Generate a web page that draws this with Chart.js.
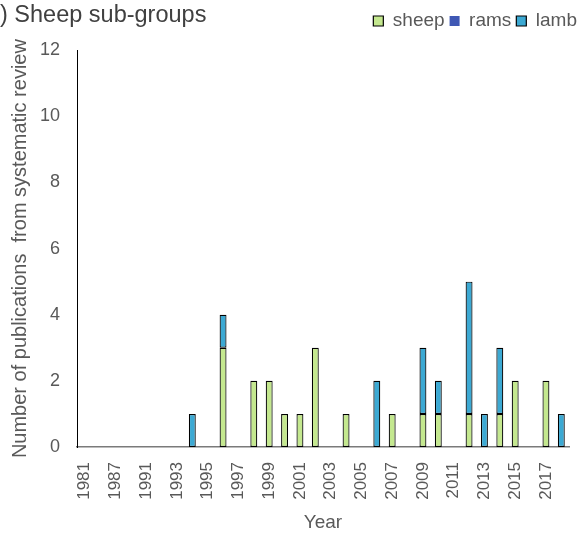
<!DOCTYPE html>
<html>
<head>
<meta charset="utf-8">
<script src="https://cdn.jsdelivr.net/npm/chart.js@4"></script>
<style>
    html, body { margin: 0; padding: 0; background: #fff; overflow: hidden; }
    #wrap { width: 582px; height: 534px; position: relative; }
</style>
</head>
<body>
<div id="wrap"><canvas id="sheepChart" width="582" height="534"></canvas></div>
<script>
const years = ['1981', '1985', '1987', '1989', '1991', '1992', '1993', '1994', '1995', '1996',
    '1997', '1998', '1999', '2000', '2001', '2002', '2003', '2004', '2005', '2006',
    '2007', '2008', '2009', '2010', '2011', '2012', '2013', '2014', '2015', '2016',
    '2017', '2018'];
const sheepCounts = [0, 0, 0, 0, 0, 0, 0, 0, 0, 3,
    0, 2, 2, 1, 1, 3, 0, 1, 0, 0,
    1, 0, 1, 1, 0, 1, 0, 1, 2, 0,
    2, 0];
const ramsCounts = [0, 0, 0, 0, 0, 0, 0, 0, 0, 0,
    0, 0, 0, 0, 0, 0, 0, 0, 0, 0,
    0, 0, 0, 0, 0, 0, 0, 0, 0, 0,
    0, 0];
const lambCounts = [0, 0, 0, 0, 0, 0, 0, 1, 0, 1,
    0, 0, 0, 0, 0, 0, 0, 0, 0, 2,
    0, 0, 2, 1, 0, 4, 1, 2, 0, 0,
    0, 1];

const fontFamily = "'Liberation Sans', Arial, sans-serif";
const textGrey = '#595959';

// panel heading, partly cut off at the left like the original figure
const headingPlugin = {
    id: 'heading',
    afterDraw(chart) {
        let ctx = chart.ctx;
        ctx.save();
        ctx.font = '23.5px ' + fontFamily;
        ctx.fillStyle = '#404040';
        ctx.textAlign = 'left';
        ctx.textBaseline = 'middle';
        ctx.fillText(') Sheep sub-groups', 0, 16);
        ctx.restore();
    }
};

let ctx = document.getElementById('sheepChart').getContext('2d');
let chart = new Chart(ctx, {
    type: 'bar',
    data: {
        labels: years,
        datasets: [
            {
                label: 'sheep',
                data: sheepCounts,
                backgroundColor: '#C4E88F',
                borderColor: '#000000',
                borderWidth: 1.2,
                borderSkipped: false
            },
            {
                label: 'rams',
                data: ramsCounts,
                backgroundColor: '#3F58B4',
                borderColor: '#3F58B4',
                borderWidth: 0,
                borderSkipped: false
            },
            {
                label: 'lamb',
                data: lambCounts,
                backgroundColor: '#3CA9D3',
                borderColor: '#000000',
                borderWidth: 1.2,
                borderSkipped: false
            }
        ]
    },
    options: {
        responsive: false,
        animation: false,
        barPercentage: 0.45,
        categoryPercentage: 1,
        layout: { padding: { top: 6.5 } },
        plugins: {
            legend: {
                position: 'top',
                align: 'end',
                labels: {
                    boxWidth: 10,
                    boxHeight: 10,
                    padding: 5,
                    color: textGrey,
                    font: { family: fontFamily, size: 19 }
                }
            },
            // empty spacer between the legend row and the plot
            subtitle: {
                display: true,
                text: '',
                weight: 500,
                font: { size: 1 },
                padding: { top: 8.5, bottom: 0 }
            },
            tooltip: { enabled: false }
        },
        scales: {
            x: {
                stacked: true,
                grid: { display: false },
                border: { display: true, color: '#7a7a7a', width: 1.5 },
                ticks: {
                    autoSkip: false,
                    minRotation: 90,
                    maxRotation: 90,
                    padding: 7,
                    color: textGrey,
                    font: { family: fontFamily, size: 17 },
                    callback: function (value, index) {
                        return index % 2 === 0 ? this.getLabelForValue(value) : '';
                    }
                },
                title: {
                    display: true,
                    text: 'Year',
                    color: textGrey,
                    padding: { top: 4, bottom: 0 },
                    font: { family: fontFamily, size: 19 }
                },
                afterFit: (scale) => {
                    scale.height = 87;
                    scale.paddingRight = 13;
                }
            },
            y: {
                stacked: true,
                min: 0,
                max: 12,
                grid: { display: false },
                border: { display: true, color: '#000000', width: 1 },
                ticks: {
                    stepSize: 2,
                    padding: 9,
                    color: textGrey,
                    font: { family: fontFamily, size: 18 }
                },
                title: {
                    display: true,
                    text: 'Number of publications  from systematic review',
                    color: textGrey,
                    padding: { top: 8, bottom: 4 },
                    font: { family: fontFamily, size: 20 }
                },
                afterFit: (scale) => {
                    scale.width = 77;
                }
            }
        }
    },
    plugins: [headingPlugin]
});
</script>
</body>
</html>
